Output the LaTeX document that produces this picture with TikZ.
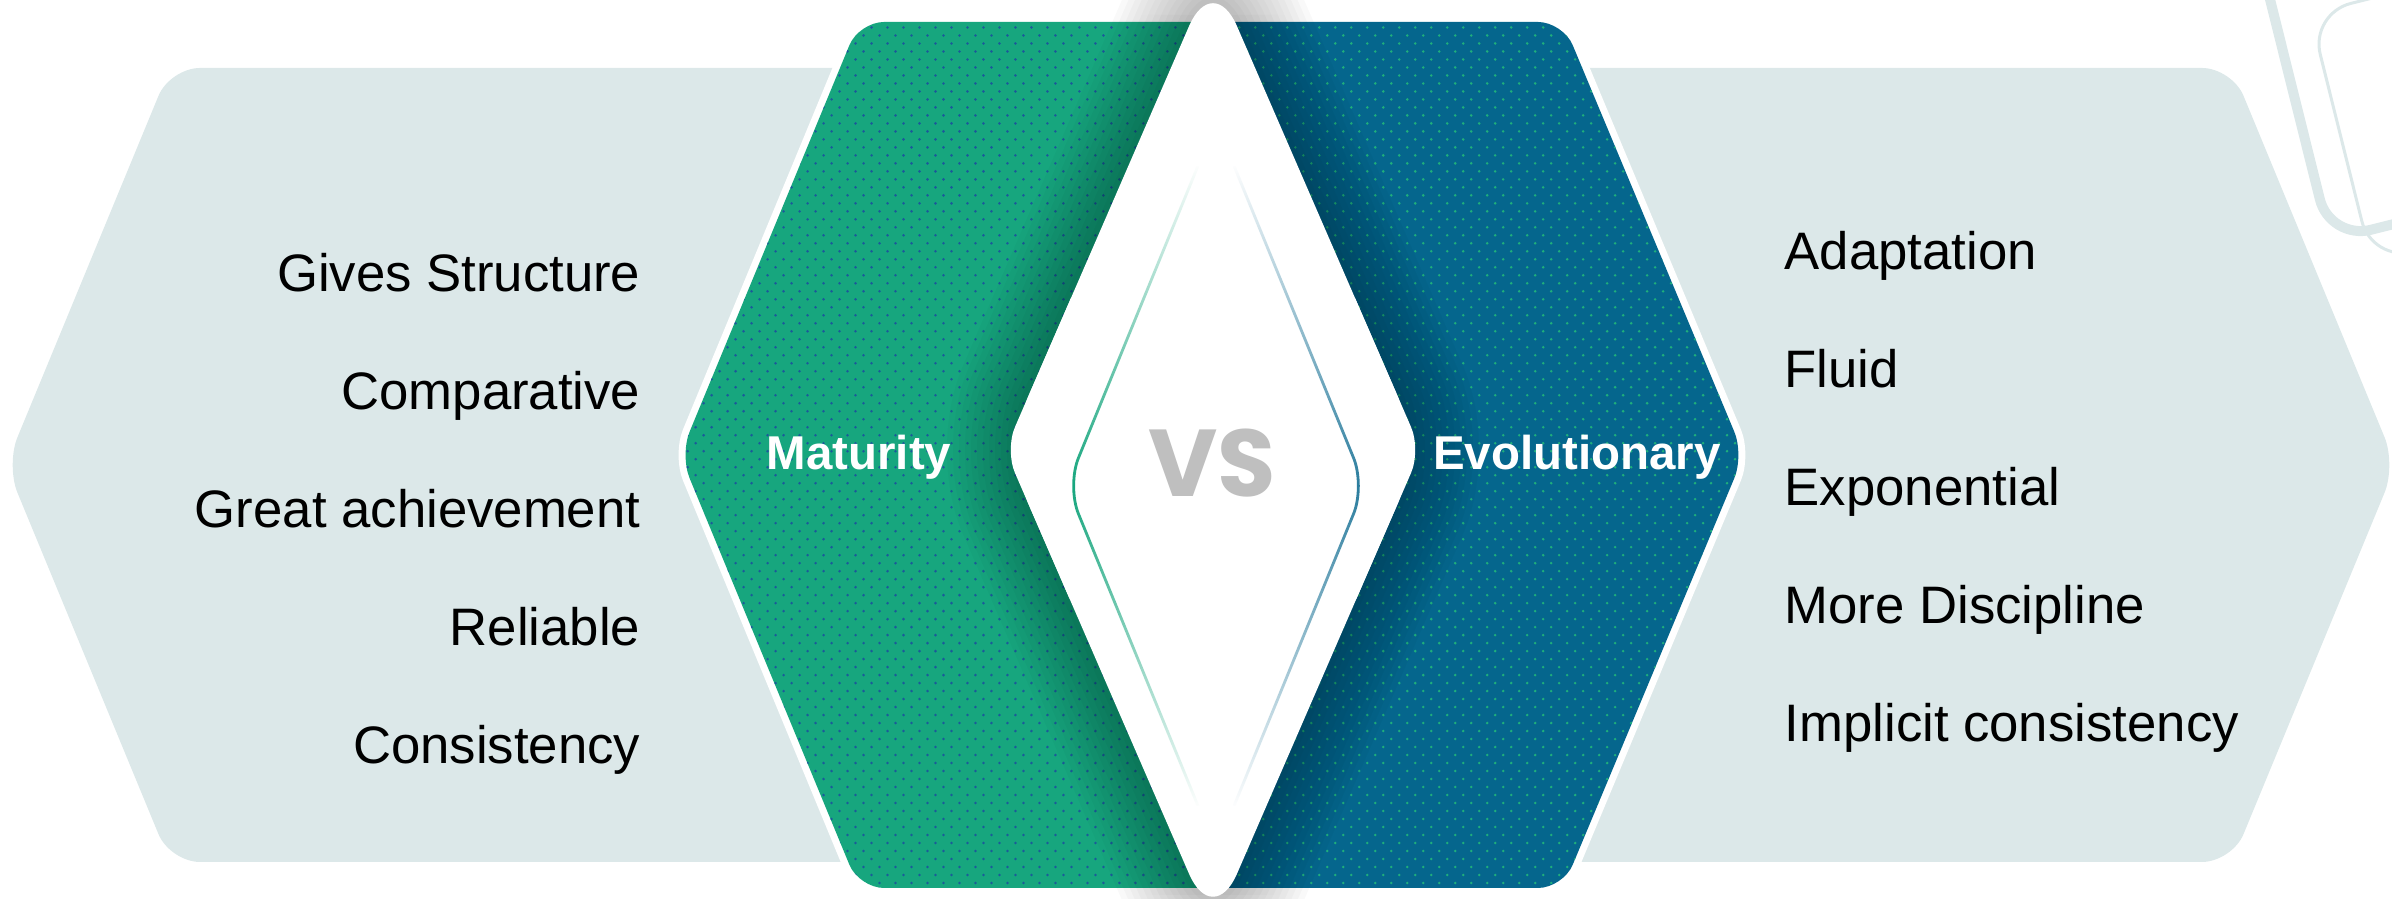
\documentclass[tikz,border=0pt]{standalone}
\usepackage{fontspec}
\setmainfont{Liberation Sans}
\newfontfamily\vsfont{Poppins}
\usetikzlibrary{patterns,fadings}

\definecolor{bandgrey}{HTML}{DCE8E9}
\definecolor{matgreen}{HTML}{17A67E}
\definecolor{evoblue}{HTML}{05668D}
\definecolor{dotblue}{HTML}{1B5A9A}
\definecolor{dotgreen}{HTML}{1FAE7C}
\definecolor{vsgrey}{HTML}{BFBFBF}

% tiny staggered dots on the two coloured halves
\pgfdeclarepatternformonly{fine dots}{\pgfqpoint{-0.6pt}{-0.6pt}}{\pgfqpoint{2.9pt}{2.9pt}}{\pgfqpoint{4.55pt}{4.55pt}}{%
    \pgfpathcircle{\pgfqpoint{0pt}{0pt}}{0.4pt}%
    \pgfpathcircle{\pgfqpoint{2.275pt}{2.275pt}}{0.4pt}%
    \pgfusepath{fill}}

\tikzfading[name=fade ends,top color=transparent!100,bottom color=transparent!100,middle color=transparent!0]

\newcommand\hexpath{(6.80,4.44) -- (8.59,8.77) -- (15.63,8.77) -- (17.44,4.44) -- (15.63,0.11) -- (8.59,0.11) -- cycle}
\newcommand\diampath{(12.13,9.28) -- (10.05,4.49) -- (12.13,-0.30) -- (14.21,4.49) -- cycle}

\begin{document}
\begin{tikzpicture}[
    leftitem/.style={anchor=base east,inner sep=0pt,font=\fontsize{15}{18}\selectfont},
    rightitem/.style={anchor=base west,inner sep=0pt,font=\fontsize{15}{18}\selectfont},
    title/.style={anchor=base,inner sep=0pt,text=white,font=\fontsize{13.5}{16}\selectfont\bfseries},
    frame/.style={draw=bandgrey,rounded corners=0.42cm}]
    \clip (0,0) rectangle (23.92,8.99);

    % rounded squares in the corner
    \draw[frame,line width=0.1cm,shift={(23.30,6.59)},rotate=14] (0,0) rectangle (3,3);
    \draw[frame,line width=0.03cm,shift={(23.72,6.37)},rotate=14] (0,0) rectangle (2.56,2.56);

    % background band
    \fill[bandgrey,rounded corners=0.3cm] (0.06,4.34) -- (1.70,8.31) -- (22.32,8.31) -- (23.96,4.34) -- (22.32,0.37) -- (1.70,0.37) -- cycle;

    % middle hexagon, green left and blue right
    \draw[white,line width=0.14cm,rounded corners=0.25cm] \hexpath;
    \begin{scope}
        \clip (0,0) rectangle (12.12,8.99);
        \fill[matgreen,rounded corners=0.25cm] \hexpath;
        \fill[pattern=fine dots,pattern color=dotblue,rounded corners=0.25cm] \hexpath;
    \end{scope}
    \begin{scope}
        \clip (12.12,0) rectangle (23.92,8.99);
        \fill[evoblue,rounded corners=0.25cm] \hexpath;
        \fill[pattern=fine dots,pattern color=dotgreen,rounded corners=0.25cm] \hexpath;
    \end{scope}

    % diamond with a soft shadow
    \foreach \w in {1,...,12}
        \draw[black,opacity=0.022,line width=\w*0.12cm,line join=round,rounded corners=0.6cm] \diampath;
    \fill[white,rounded corners=0.6cm] \diampath;
    \begin{scope}
        \clip (0,3) rectangle (23.92,6);
        \fill[white,rounded corners=0.25cm] \diampath;
    \end{scope}
    \draw[matgreen,line width=0.8pt,rounded corners=0.3cm,path fading=fade ends] (11.98,7.33) -- (10.67,4.13) -- (11.98,0.93);
    \draw[evoblue!85,line width=0.8pt,rounded corners=0.3cm,path fading=fade ends] (12.34,7.33) -- (13.65,4.13) -- (12.34,0.93);

    \node[anchor=base,inner sep=0pt,text=vsgrey,font=\vsfont\bfseries\fontsize{27}{30}\selectfont] (vs) at (12.12,4.02) {VS};
    \node[title] (maturity) at (8.59,4.29) {Maturity};
    \node[title] (evolutionary) at (15.77,4.29) {Evolutionary};

    \node[leftitem] (structure) at (6.41,6.07) {Gives Structure};
    \node[leftitem] (comparative) at (6.41,4.89) {Comparative};
    \node[leftitem] (achievement) at (6.41,3.71) {Great achievement};
    \node[leftitem] (reliable) at (6.41,2.53) {Reliable};
    \node[leftitem] (consistency) at (6.41,1.35) {Consistency};

    \node[rightitem] (adaptation) at (17.84,6.29) {Adaptation};
    \node[rightitem] (fluid) at (17.84,5.11) {Fluid};
    \node[rightitem] (exponential) at (17.84,3.93) {Exponential};
    \node[rightitem] (discipline) at (17.84,2.75) {More Discipline};
    \node[rightitem] (implicit) at (17.84,1.57) {Implicit consistency};
\end{tikzpicture}
\end{document}
